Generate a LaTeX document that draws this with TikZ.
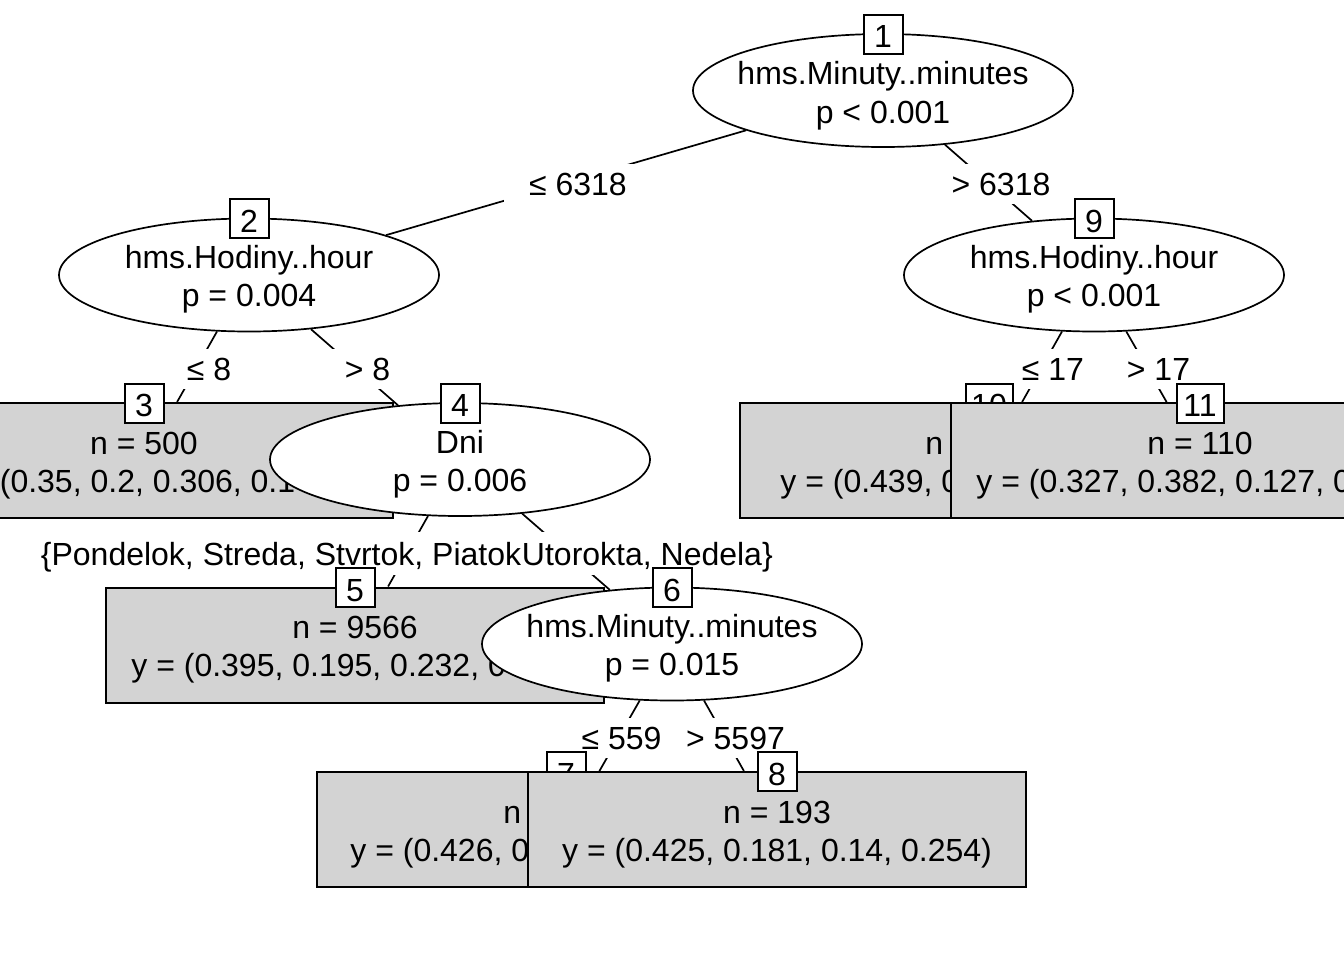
\documentclass[tikz,border=0pt]{standalone}
\usepackage{fontspec}
\setmainfont{Liberation Sans}
\usetikzlibrary{shapes.geometric}
\definecolor{termgray}{HTML}{D3D3D3}
\pgfdeclarelayer{bglayer}
\pgfdeclarelayer{edgelayer}
\pgfdeclarelayer{labellayer}
\pgfsetlayers{bglayer,edgelayer,labellayer,main}
\begin{document}
\begin{tikzpicture}[x=0.5pt,y=-0.5pt,
  font=\fontsize{16pt}{19.5pt}\selectfont,
  inner/.style={ellipse, draw, fill=white, line width=0.85pt, minimum width=190pt, minimum height=56.5pt, inner sep=0pt},
  term/.style={rectangle, draw, fill=termgray, line width=1pt, minimum width=249pt, minimum height=57.5pt, inner sep=0pt},
  idbox/.style={draw, fill=white, line width=1pt, minimum height=19.5pt, minimum width=19.5pt, inner sep=0pt, text height=13.5pt, text depth=0pt},
  idwide/.style={idbox, minimum width=23.5pt},
  txt/.style={anchor=base, inner sep=0pt},
  txtl/.style={anchor=base west, inner sep=0pt},
  elabel/.style={fill=white, inner xsep=12.5pt, inner ysep=0pt, minimum height=20pt, text height=11.5pt, text depth=0pt},
  dlabel/.style={fill=white, inner sep=0pt, minimum height=21.5pt, text height=11.5pt, text depth=0pt},
  conn/.style={line width=0.85pt}
]
\clip (0,0) rectangle (1344,960);
\begin{pgfonlayer}{bglayer}
\fill[white] (0,0) rectangle (1344,960);
\end{pgfonlayer}

% node 1
\node[inner] (n1) at (883,90.5) {};
\node[idbox] (id1) at (883,34) {1};
\node[txt] (t1a) at (883,84) {hms.Minuty..minutes};
\node[txt] (t1b) at (883,123) {p < 0.001};

% node 2
\node[inner] (n2) at (249,275) {};
\node[idbox] (id2) at (249,218.5) {2};
\node[txt] (t2a) at (249,268.5) {hms.Hodiny..hour};
\node[txt] (t2b) at (249,306.5) {p = 0.004};

% node 3
\node[term] (n3) at (144,460.5) {};
\node[idbox] (id3) at (144,403) {3};
\node[txt] (t3a) at (144,454) {n = 500};
\node[txtl] (t3b) at (-53,492) {y = (0.35, 0.2, 0.306, 0.1};

% node 4
\node[inner] (n4) at (460,459.5) {};
\node[idbox] (id4) at (460,403) {4};
\node[txt] (t4a) at (460,453) {Dni};
\node[txt] (t4b) at (460,491) {p = 0.006};

% node 5
\node[term] (n5) at (355,645) {};
\node[idbox] (id5) at (355,587.5) {5};
\node[txt] (t5a) at (355,638.5) {n = 9566};
\node[txtl] (t5b) at (131,676.5) {y = (0.395, 0.195, 0.232, 0};

% node 6
\node[inner] (n6) at (672,644) {};
\node[idbox] (id6) at (672,587.5) {6};
\node[txt] (t6a) at (672,637.5) {hms.Minuty..minutes};
\node[txt] (t6b) at (672,675.5) {p = 0.015};

% node 7
\node[term] (n7) at (566,829.5) {};
\node[idbox] (id7) at (566,771.5) {7};
\node[txtl] (t7a) at (503,823) {n};
\node[txtl] (t7b) at (350,861) {y = (0.426, 0};

% node 8
\node[term] (n8) at (777,829.5) {};
\node[idbox] (id8) at (777,771.5) {8};
\node[txt] (t8a) at (777,823) {n = 193};
\node[txt] (t8b) at (777,861) {y = (0.425, 0.181, 0.14, 0.254)};

% node 9
\node[inner] (n9) at (1094,275) {};
\node[idbox] (id9) at (1094,218.5) {9};
\node[txt] (t9a) at (1094,268.5) {hms.Hodiny..hour};
\node[txt] (t9b) at (1094,306.5) {p < 0.001};

% node 10
\node[term] (n10) at (989,460.5) {};
\node[idwide] (id10) at (989,403) {10};
\node[txtl] (t10a) at (925,454) {n};
\node[txtl] (t10b) at (780,492) {y = (0.439, 0};

% node 11
\node[term] (n11) at (1200,460.5) {};
\node[idwide] (id11) at (1200,403) {11};
\node[txt] (t11a) at (1200,454) {n = 110};
\node[txtl] (t11b) at (976,492) {y = (0.327, 0.382, 0.127, 0};

% connectors
\begin{pgfonlayer}{edgelayer}
\draw[conn] (n1) -- (n2);
\draw[conn] (n1) -- (n9);
\draw[conn] (n2) -- (n3);
\draw[conn] (n2) -- (n4);
\draw[conn] (n4) -- (n5);
\draw[conn] (n4) -- (n6);
\draw[conn] (n6) -- (n7);
\draw[conn] (n6) -- (n8);
\draw[conn] (n9) -- (n10);
\draw[conn] (n9) -- (n11);
\end{pgfonlayer}

% edge labels
\begin{pgfonlayer}{labellayer}
\node[elabel] (e12) at (578,184) {≤ 6318};
\node[elabel] (e19) at (1001,184) {> 6318};
\node[elabel] (e23) at (209,369) {≤ 8};
\node[elabel] (e24) at (367.5,369) {> 8};
\node[dlabel, anchor=west] (e45) at (40.5,553.5) {\{Pondelok, Streda, Stvrtok, Piatok};
\node[dlabel, anchor=west] (e46) at (e45.east) {Utorokta, Nedela\}};
\node[elabel] (e67) at (621.5,737.5) {≤ 559};
\node[elabel] (e68) at (735.5,737.5) {> 5597};
\node[elabel] (e910) at (1053,369) {≤ 17};
\node[elabel] (e911) at (1158.5,369) {> 17};
\end{pgfonlayer}
\end{tikzpicture}
\end{document}
